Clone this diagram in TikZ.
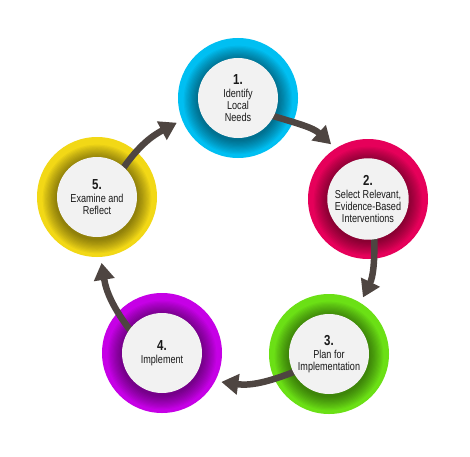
\documentclass[tikz,border=0pt]{standalone}
\usepackage{fontspec}
\setmainfont{Liberation Sans}[FakeStretch=0.79]
\usetikzlibrary{arrows.meta}
\definecolor{ringcyan}{HTML}{00BFF2}
\definecolor{ringred}{HTML}{E6005A}
\definecolor{ringgreen}{HTML}{6BE015}
\definecolor{ringpurple}{HTML}{C600E6}
\definecolor{ringyellow}{HTML}{F2D816}
\definecolor{discgrey}{HTML}{F2F2F2}
\definecolor{flowbrown}{HTML}{4E4541}
\pgfdeclarelayer{rings}
\pgfdeclarelayer{links}
\pgfsetlayers{rings,links,main}
\tikzset{
  ring/.style={circle, minimum size=120pt, inner sep=0pt, outer sep=6pt},
  stepdisc/.style={circle, fill=discgrey, minimum size=80pt, inner sep=0pt,
    align=center, text=black!90, font=\fontsize{11.5}{12}\selectfont},
  flow/.style={draw=flowbrown, line width=6.5pt, shorten <=-5pt,
    -{Triangle[width=20pt,length=17pt]}},
}
\newcommand{\stepnum}[1]{{\fontsize{14.5}{14}\selectfont\bfseries #1}\\[1.5pt]}
\begin{document}
\begin{tikzpicture}[x=1pt,y=1pt]
\useasboundingbox (0,0) rectangle (470,456);

% coloured rings with a soft shadow round the disc
\begin{pgfonlayer}{rings}
\node[ring, fill=ringcyan] (r1) at (238,358) {};
\node[ring, fill=ringred] (r2) at (368,257) {};
\node[ring, fill=ringgreen] (r3) at (329,102) {};
\node[ring, fill=ringpurple] (r4) at (162,103) {};
\node[ring, fill=ringyellow] (r5) at (97,259) {};
\foreach \r in {r1,r2,r3,r4,r5}
  \foreach \k in {1,...,12}
    \fill[black, opacity=0.04] ([yshift=-2pt]\r.center) circle ({40+1.2*\k});
\end{pgfonlayer}

% steps
\node[stepdisc] (s1) at (r1) {\stepnum{1.}Identify\\Local\\Needs};
\node[stepdisc] (s2) at (r2) {\stepnum{2.}Select Relevant,\\Evidence-Based\\Interventions};
\node[stepdisc] (s3) at (r3) {\stepnum{3.}Plan for\\Implementation};
\node[stepdisc] (s4) at (r4) {\stepnum{4.}Implement};
\node[stepdisc] (s5) at (r5) {\stepnum{5.}Examine and\\Reflect};

% cycle
\begin{pgfonlayer}{links}
\draw[flow] (s1.-27) to[out=-17,in=137] (r2.124);
\draw[flow] (s2.-81) to[out=-89,in=64] (r3.59);
\draw[flow] (s3.207) to[out=202,in=-8] (r4.-26);
\draw[flow] (s4.144) to[out=128,in=-81] (r5.-86);
\draw[flow] (s5.48) to[out=56,in=208] (r1.202);
\end{pgfonlayer}
\end{tikzpicture}
\end{document}
